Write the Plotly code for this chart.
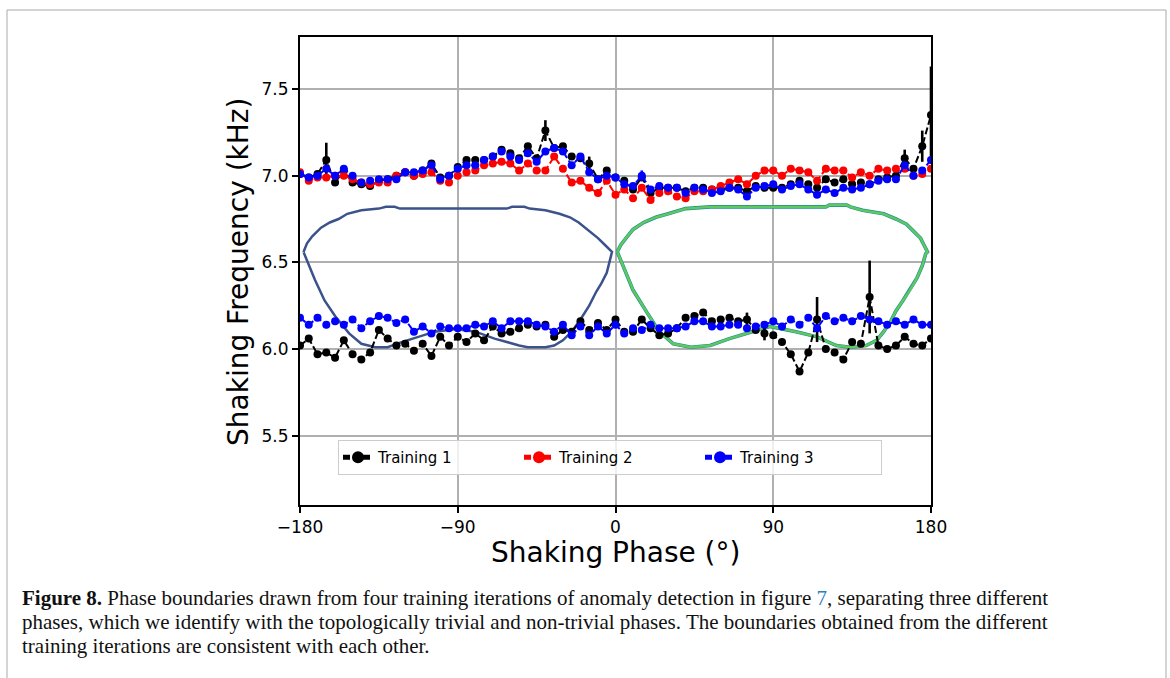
import plotly.graph_objects as go

phase = [-180, -175, -170, -165, -160, -155, -150, -145, -140, -135, -130, -125, -120,
         -115, -110, -105, -100, -95, -90, -85, -80, -75, -70, -65, -60, -55, -50, -45,
         -40, -35, -30, -25, -20, -15, -10, -5, 0, 5, 10, 15, 20, 25, 30, 35, 40, 45, 50,
         55, 60, 65, 70, 75, 80, 85, 90, 95, 100, 105, 110, 115, 120, 125, 130, 135, 140,
         145, 150, 155, 160, 165, 170, 175, 180]

t1_upper = [7.01, 6.99, 7.01, 7.09, 6.96, 7.03, 6.96, 6.95, 6.94, 6.97, 6.98, 7.00, 7.02,
            7.00, 7.03, 7.07, 6.99, 7.00, 7.05, 7.09, 7.09, 7.09, 7.11, 7.15, 7.13, 7.10,
            7.17, 7.10, 7.26, 7.16, 7.17, 7.11, 7.10, 7.07, 6.98, 7.03, 6.99, 6.97, 6.92,
            6.99, 6.90, 6.93, 6.93, 6.93, 6.91, 6.93, 6.93, 6.92, 6.92, 6.93, 6.93, 6.91,
            6.94, 6.93, 6.93, 6.93, 6.95, 6.97, 6.95, 6.93, 6.98, 6.96, 6.98, 6.95, 6.96,
            6.95, 6.98, 6.99, 7.00, 7.10, 7.04, 7.17, 7.35]
t1_upper_err = [0, 0, 0, 0.10, 0, 0, 0, 0, 0, 0, 0, 0, 0, 0, 0, 0, 0, 0, 0, 0, 0, 0, 0, 0,
                0, 0, 0, 0, 0.06, 0, 0, 0, 0, 0.04, 0, 0, 0, 0, 0, 0, 0, 0, 0, 0, 0, 0, 0,
                0, 0, 0, 0, 0, 0, 0, 0, 0, 0, 0, 0, 0, 0, 0, 0, 0, 0, 0, 0, 0, 0, 0.05, 0,
                0.09, 0.28]
t1_lower = [6.02, 6.06, 5.97, 5.98, 5.95, 6.05, 5.97, 5.94, 5.98, 6.11, 6.06, 6.02, 6.03,
            5.99, 6.03, 5.96, 6.07, 6.02, 6.07, 6.04, 6.09, 6.05, 6.13, 6.09, 6.10, 6.12,
            6.14, 6.13, 6.14, 6.07, 6.11, 6.10, 6.16, 6.11, 6.15, 6.11, 6.17, 6.10, 6.10,
            6.17, 6.12, 6.08, 6.09, 6.12, 6.18, 6.19, 6.21, 6.16, 6.17, 6.18, 6.16, 6.17,
            6.11, 6.09, 6.08, 6.04, 5.97, 5.87, 5.98, 6.17, 6.00, 5.98, 5.94, 6.04, 6.03,
            6.30, 6.02, 6.00, 6.02, 6.07, 6.03, 6.02, 6.06]
t1_lower_err = [0, 0, 0, 0, 0, 0, 0, 0, 0, 0, 0, 0, 0, 0, 0, 0, 0, 0, 0, 0, 0, 0, 0, 0, 0,
                0, 0, 0, 0, 0, 0, 0, 0, 0, 0, 0, 0, 0, 0, 0, 0, 0, 0, 0, 0, 0, 0, 0, 0, 0,
                0, 0.04, 0, 0.04, 0, 0, 0, 0, 0, 0.13, 0, 0, 0, 0, 0, 0.21, 0, 0, 0, 0, 0,
                0, 0]

t2_upper = [7.02, 6.97, 6.99, 6.99, 7.00, 7.00, 6.98, 6.96, 6.95, 6.96, 6.96, 7.00, 7.02,
            7.00, 7.01, 7.02, 6.97, 6.96, 7.00, 7.02, 7.03, 7.06, 7.07, 7.08, 7.07, 7.03,
            7.07, 7.03, 7.03, 7.11, 7.04, 6.96, 6.97, 6.93, 6.90, 6.97, 6.89, 6.92, 6.87,
            6.93, 6.86, 6.90, 6.91, 6.88, 6.87, 6.91, 6.91, 6.92, 6.94, 6.96, 6.98, 6.95,
            7.00, 7.03, 7.03, 7.00, 7.04, 7.03, 7.02, 6.97, 7.04, 7.03, 7.03, 6.99, 7.02,
            7.00, 7.04, 7.03, 7.04, 7.04, 7.00, 7.01, 7.04]

t3_upper = [7.01, 6.99, 7.00, 7.04, 7.00, 7.04, 7.00, 6.96, 6.97, 6.98, 6.98, 6.98, 7.02,
            7.02, 7.03, 7.06, 6.98, 7.00, 7.04, 7.06, 7.06, 7.09, 7.11, 7.14, 7.11, 7.09,
            7.13, 7.08, 7.14, 7.16, 7.14, 7.06, 7.11, 7.02, 6.98, 7.00, 6.99, 6.95, 6.94,
            7.00, 6.92, 6.94, 6.93, 6.93, 6.90, 6.93, 6.92, 6.90, 6.91, 6.93, 6.92, 6.88,
            6.93, 6.94, 6.95, 6.92, 6.94, 6.95, 6.92, 6.89, 6.92, 6.90, 6.93, 6.92, 6.93,
            6.95, 6.97, 6.98, 6.98, 7.06, 7.00, 7.03, 7.09]
t3_upper_err = [0] * 39 + [0.03] + [0] * 33
t3_lower = [6.18, 6.14, 6.18, 6.14, 6.16, 6.14, 6.17, 6.12, 6.16, 6.19, 6.18, 6.15, 6.17,
            6.10, 6.13, 6.09, 6.13, 6.12, 6.12, 6.12, 6.14, 6.13, 6.16, 6.12, 6.16, 6.16,
            6.16, 6.14, 6.13, 6.10, 6.14, 6.08, 6.13, 6.08, 6.13, 6.09, 6.14, 6.09, 6.12,
            6.11, 6.14, 6.12, 6.12, 6.12, 6.13, 6.16, 6.16, 6.13, 6.13, 6.14, 6.14, 6.12,
            6.13, 6.14, 6.16, 6.13, 6.17, 6.14, 6.18, 6.12, 6.19, 6.16, 6.18, 6.16, 6.19,
            6.17, 6.16, 6.14, 6.16, 6.14, 6.17, 6.14, 6.14]
t3_lower_err = [0, 0, 0, 0.02, 0, 0, 0, 0, 0, 0.02] + [0] * 49 + [0.02] + [0] * 13

# phase boundary loops (phase, frequency)
bnd_left_phase = [-178, -176, -173, -168, -163, -158, -153, -145, -135, -131, -126, -123,
                  -100, -80, -62, -59, -52, -49, -40, -32, -26, -21, -15, -10, -6, -3, -2,
                  -3, -5, -8, -11, -15, -20, -25, -30, -35, -40, -50, -55, -60, -69, -80,
                  -91, -103, -113, -122, -130, -137, -145, -152, -156, -160, -166, -171.5,
                  -176, -178]
bnd_left_freq = [6.56, 6.61, 6.65, 6.70, 6.73, 6.75, 6.78, 6.80, 6.81, 6.82, 6.82, 6.81,
                 6.81, 6.81, 6.81, 6.82, 6.82, 6.81, 6.80, 6.78, 6.76, 6.73, 6.68, 6.64,
                 6.60, 6.57, 6.56, 6.52, 6.44, 6.38, 6.33, 6.25, 6.17, 6.10, 6.05, 6.02,
                 6.01, 6.01, 6.02, 6.035, 6.06, 6.10, 6.115, 6.10, 6.07, 6.04, 6.01, 6.01,
                 6.03, 6.09, 6.14, 6.19, 6.28, 6.40, 6.51, 6.56]
bnd_right_phase = [1, 3, 6, 10, 16, 23, 30, 40, 54, 120, 122, 132, 134, 141, 147, 153, 160,
                   166, 170, 174, 176, 178, 177, 175, 172, 168, 164, 160, 157, 153, 149, 143,
                   134, 126, 115, 103, 94, 88, 78, 65, 54, 43, 33, 25, 18, 10, 3.5, 1]
bnd_right_freq = [6.56, 6.60, 6.64, 6.69, 6.73, 6.76, 6.78, 6.81, 6.82, 6.82, 6.83, 6.83,
                  6.82, 6.80, 6.79, 6.78, 6.75, 6.72, 6.68, 6.64, 6.60, 6.56, 6.55, 6.48,
                  6.41, 6.34, 6.28, 6.22, 6.16, 6.10, 6.05, 6.02, 6.01, 6.02, 6.07, 6.10,
                  6.12, 6.13, 6.10, 6.06, 6.02, 6.01, 6.03, 6.10, 6.21, 6.34, 6.50, 6.56]

x_ticks = [-180, -90, 0, 90, 180]
y_ticks = [5.5, 6.0, 6.5, 7.0, 7.5]

caption_lines = [
    "<b>Figure 8.</b> Phase boundaries drawn from four training iterations of anomaly detection in figure "
    "<span style='color:#2c7fb8'>7</span>, separating three different",
    "phases, which we identify with the topologically trivial and non-trivial phases. The boundaries obtained from the different",
    "training iterations are consistent with each other.",
]

# ---------- layout geometry (pixels) ----------
W, H = 1170, 678
L, R, T, B = 300, 931, 37, 505
pw, ph = R - L, B - T


def px_x(x):
    return (x - L) / pw


def px_y(y):
    return (B - y) / ph


fig = go.Figure()

# boundaries
fig.add_trace(go.Scatter(x=bnd_left_phase, y=bnd_left_freq, mode="lines",
                         line=dict(color="#3b528b", width=2.5), showlegend=False,
                         hoverinfo="skip"))
fig.add_trace(go.Scatter(x=bnd_right_phase, y=bnd_right_freq, mode="lines",
                         line=dict(color="#21918c", width=3.6), showlegend=False,
                         hoverinfo="skip"))
fig.add_trace(go.Scatter(x=bnd_right_phase, y=bnd_right_freq, mode="lines",
                         line=dict(color="#5ec962", width=2.4), showlegend=False,
                         hoverinfo="skip"))

dash = "7px,3px"


def add_series(y, err, color, name, show):
    kw = {}
    if err is not None:
        kw["error_y"] = dict(type="data", array=err, visible=True, color=color,
                             thickness=2.6, width=0)
    fig.add_trace(go.Scatter(
        x=phase, y=y, mode="lines+markers", name=name, legendgroup=name,
        showlegend=show,
        line=dict(color=color, width=2, dash=dash),
        marker=dict(color=color, size=8, symbol="circle"),
        **kw))


add_series(t1_upper, t1_upper_err, "#000000", "Training 1", True)
add_series(t1_lower, t1_lower_err, "#000000", "Training 1", False)
add_series(t2_upper, None, "#ff0000", "Training 2", True)
add_series(t3_upper, t3_upper_err, "#0000ff", "Training 3", True)
add_series(t3_lower, t3_lower_err, "#0000ff", "Training 3", False)

axis_common = dict(
    showline=True, linecolor="black", linewidth=2, mirror=True,
    ticks="outside", ticklen=6, tickwidth=1.5, tickcolor="black",
    showgrid=True, gridcolor="#b0b0b0", gridwidth=2, zeroline=False,
    tickfont=dict(family="DejaVu Sans", size=17, color="black"),
)

fig.update_xaxes(range=[-180, 180], tickvals=x_ticks,
                 ticktext=["\u2212180", "\u221290", "0", "90", "180"], **axis_common)
fig.update_yaxes(range=[5.1, 7.8], tickvals=y_ticks,
                 ticktext=["5.5", "6.0", "6.5", "7.0", "7.5"], **axis_common)

annotations = [
    dict(text="Shaking Phase (\u00b0)", x=0.5, y=px_y(552), xref="paper", yref="paper",
         showarrow=False, xanchor="center", yanchor="middle",
         font=dict(family="DejaVu Sans", size=28, color="black")),
    dict(text="Shaking Frequency (kHz)", x=px_x(238), y=px_y(272), xref="paper",
         yref="paper", showarrow=False, xanchor="center", yanchor="middle", textangle=-90,
         font=dict(family="DejaVu Sans", size=28, color="black")),
]
for i, line in enumerate(caption_lines):
    annotations.append(dict(
        text=line, x=px_x(20), y=px_y(598 + 24 * i), xref="paper", yref="paper",
        showarrow=False, xanchor="left", yanchor="middle", align="left",
        font=dict(family="Liberation Serif", size=21, color="#111111")))

shapes = [
    dict(type="line", xref="paper", yref="paper", x0=px_x(7), x1=px_x(1166),
         y0=px_y(10), y1=px_y(10), line=dict(color="#aaaaaa", width=1)),
    dict(type="line", xref="paper", yref="paper", x0=px_x(7), x1=px_x(7),
         y0=px_y(10), y1=px_y(690), line=dict(color="#aaaaaa", width=1)),
    dict(type="line", xref="paper", yref="paper", x0=px_x(1166), x1=px_x(1166),
         y0=px_y(10), y1=px_y(690), line=dict(color="#aaaaaa", width=1)),
]

fig.update_layout(
    width=W, height=H,
    margin=dict(l=L, r=W - R, t=T, b=H - B, pad=0),
    paper_bgcolor="white", plot_bgcolor="white",
    font=dict(family="DejaVu Sans", color="black"),
    showlegend=True,
    legend=dict(orientation="h", x=px_x(338), y=px_y(440), xanchor="left", yanchor="top",
                bgcolor="rgba(255,255,255,0.8)", bordercolor="#cccccc", borderwidth=1,
                font=dict(family="DejaVu Sans", size=15, color="black"),
                entrywidth=136, entrywidthmode="pixels", itemsizing="constant"),
    annotations=annotations,
    shapes=shapes,
)

fig.write_html("out.html")
